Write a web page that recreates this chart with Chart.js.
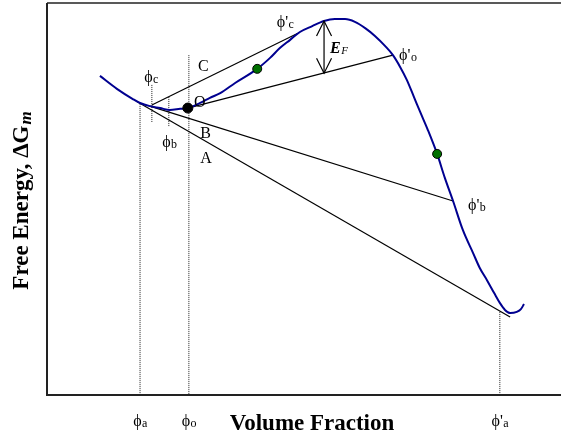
<!DOCTYPE html>
<html>
<head>
<meta charset="utf-8">
<script src="https://cdn.jsdelivr.net/npm/chart.js@4"></script>
<style>
html,body{margin:0;padding:0;background:#fff;}
#c{display:block;}
</style>
</head>
<body>
<canvas id="c" width="561" height="441"></canvas>
<script>
// Free-energy curve (volume fraction, arbitrary free energy units)
const curveX = [10.3,13.6,16.7,18.1,20.0,22.0,23.9,25.9,27.4,29.8,31.7,33.7,36.6,40.9,43.4,45.3,47.3,49.2,51.6,53.9,56.0,58.0,59.9,61.9,63.8,65.8,67.3,68.7,70.0,71.4,72.6,74.1,75.9,77.4,79.0,80.9,82.9,84.2,85.6,87.0,88.1,89.1,90.1,91.4,92.2,92.8];
const curveY = [81.4,78.1,75.5,74.5,73.7,73.2,72.7,73.0,73.2,74.5,75.8,77.0,79.6,83.2,86.0,88.5,90.6,92.6,94.1,95.4,95.9,95.9,95.2,93.6,91.6,89.0,86.7,83.7,80.4,76.0,72.2,67.6,61.5,55.4,49.5,42.1,36.2,32.4,29.3,26.0,23.5,21.7,20.9,21.2,21.9,23.2];

// Tangent (common tangent) lines: [x1, x2], [y1, y2]
const lineNames = ["C","O","B","A"];
const lineX = [[20.4,48.8],[27.4,67.3],[20.0,79.0],[17.3,90.1]];
const lineY = [[74.0,92.3],[73.2,86.7],[73.7,49.5],[75.0,19.9]];

// Dotted vertical markers: x, yTop, yBottom
const markNames = ["ϕa","ϕo","ϕc","ϕb","ϕ'a"];
const markX = [18.1,27.6,20.4,23.7,88.1];
const markTop = [74.2,86.7,79.1,76.0,21.2];
const markBottom = [0,0,69.6,68.6,0];

// Inflection / spinodal points (green) and initial composition O (black)
const greenX = [40.9,75.9];
const greenY = [83.2,61.5];
const pointOX = [27.4];
const pointOY = [73.2];

// E_F arrow: x, yTop, yBottom
const arrowX = 53.9;
const arrowY = [95.4,82.1];

// In-plot labels: main text, subscript, x, y (baseline)
const labelText = ["C","ϕ","O","B","A","ϕ","ϕ'","ϕ'","ϕ'"];
const labelSub  = ["","c","","","","b","c","o","b"];
const labelX = [29.4,18.9,28.6,29.8,29.8,22.4,44.7,68.5,81.9];
const labelY = [82.7,79.8,73.5,65.6,59.2,63.3,93.9,85.5,47.2];

// Axis (below x-axis) labels
const axisLabelText = ["ϕ","ϕ","ϕ'"];
const axisLabelSub = ["a","o","a"];
const axisLabelX = [18.1,27.6,88.1];

const SERIF = '"Liberation Serif","Times New Roman",serif';

const datasets = [];
datasets.push({
  label: 'ΔGm',
  data: curveX.map((x,i)=>({x, y: curveY[i]})),
  showLine: true, borderColor: '#000090', borderWidth: 2, pointRadius: 0,
  cubicInterpolationMode: 'monotone', fill: false, order: 1
});
lineX.forEach((xs,i)=>{
  datasets.push({
    label: 'line ' + lineNames[i],
    data: xs.map((x,j)=>({x, y: lineY[i][j]})),
    showLine: true, borderColor: '#000', borderWidth: 1.2, pointRadius: 0, order: 2
  });
});
markX.forEach((x,i)=>{
  datasets.push({
    label: 'mark ' + markNames[i],
    data: [{x, y: markTop[i]},{x, y: markBottom[i]}],
    showLine: true, borderColor: '#222', borderWidth: 1, borderDash: [1,1], pointRadius: 0, order: 3
  });
});
datasets.push({
  label: 'E_F',
  data: arrowY.map(y=>({x: arrowX, y})),
  showLine: true, borderColor: '#000', borderWidth: 1.2, pointRadius: 0, order: 2
});
datasets.push({
  label: 'green',
  data: greenX.map((x,i)=>({x, y: greenY[i]})),
  showLine: false, pointRadius: 4.5, pointBackgroundColor: '#007000', pointBorderColor: '#000', pointBorderWidth: 1, order: 0
});
datasets.push({
  label: 'O',
  data: pointOX.map((x,i)=>({x, y: pointOY[i]})),
  showLine: false, pointRadius: 5, pointBackgroundColor: '#000', pointBorderColor: '#000', pointBorderWidth: 1, order: 0
});

function drawSubText(ctx, x, y, main, sub, mainFont, subFont, subDy, align) {
  ctx.font = mainFont;
  const w1 = ctx.measureText(main).width;
  ctx.font = subFont;
  const w2 = sub ? ctx.measureText(sub).width : 0;
  let sx = x;
  if (align === 'center') sx = x - (w1 + w2) / 2;
  ctx.textAlign = 'left';
  ctx.font = mainFont;
  ctx.fillText(main, sx, y);
  if (sub) { ctx.font = subFont; ctx.fillText(sub, sx + w1 + 0.5, y + subDy); }
}

const decor = {
  id: 'decor',
  afterDatasetsDraw(chart) {
    const {ctx, chartArea: a, scales: {x, y}} = chart;
    ctx.save();
    // frame: left, top, bottom
    ctx.strokeStyle = '#222';
    ctx.lineWidth = 2;
    ctx.beginPath();
    ctx.moveTo(a.left, a.top); ctx.lineTo(a.left, a.bottom); ctx.lineTo(chart.width, a.bottom);
    ctx.stroke();
    ctx.lineWidth = 1.5;
    ctx.beginPath();
    ctx.moveTo(a.left, a.top); ctx.lineTo(chart.width, a.top);
    ctx.stroke();

    // arrowheads for E_F
    const ax = x.getPixelForValue(arrowX);
    const t = y.getPixelForValue(arrowY[0]);
    const b = y.getPixelForValue(arrowY[1]);
    ctx.strokeStyle = '#000'; ctx.lineWidth = 1.2;
    ctx.beginPath();
    ctx.moveTo(ax - 7.5, t + 15); ctx.lineTo(ax, t); ctx.lineTo(ax + 7.5, t + 15);
    ctx.moveTo(ax - 7.5, b - 15); ctx.lineTo(ax, b); ctx.lineTo(ax + 7.5, b - 15);
    ctx.stroke();

    ctx.fillStyle = '#000';
    ctx.textBaseline = 'alphabetic';
    // in-plot labels
    labelText.forEach((txt,i)=>{
      drawSubText(ctx, x.getPixelForValue(labelX[i]), y.getPixelForValue(labelY[i]),
        txt, labelSub[i], '16px ' + SERIF, '12px ' + SERIF, 1, 'left');
    });
    // E_F label
    drawSubText(ctx, x.getPixelForValue(arrowX) + 6, y.getPixelForValue((arrowY[0]+arrowY[1])/2) + 6,
      'E', 'F', 'italic bold 16px ' + SERIF, 'italic 11px ' + SERIF, 1, 'left');

    // below-axis labels
    axisLabelText.forEach((txt,i)=>{
      drawSubText(ctx, x.getPixelForValue(axisLabelX[i]), a.bottom + 31,
        txt, axisLabelSub[i], '16px ' + SERIF, '12px ' + SERIF, 1, 'center');
    });

    // axis titles
    ctx.font = 'bold 23px ' + SERIF;
    ctx.textAlign = 'center';
    ctx.fillText('Volume Fraction', 312, a.bottom + 35);

    ctx.translate(28, 201);
    ctx.rotate(-Math.PI/2);
    const mainT = 'Free Energy, ΔG';
    ctx.font = 'bold 23px ' + SERIF;
    const w1 = ctx.measureText(mainT).width;
    ctx.font = 'bold italic 17px ' + SERIF;
    const w2 = ctx.measureText('m').width;
    const sx = -(w1 + w2) / 2;
    ctx.textAlign = 'left';
    ctx.font = 'bold 23px ' + SERIF;
    ctx.fillText(mainT, sx, 0);
    ctx.font = 'bold italic 17px ' + SERIF;
    ctx.fillText('m', sx + w1 + 1, 3);
    ctx.restore();
  }
};

new Chart(document.getElementById('c'), {
  type: 'scatter',
  data: { datasets },
  options: {
    responsive: false, animation: false, devicePixelRatio: 1,
    layout: { autoPadding: false, padding: { left: 47, right: 0, top: 3, bottom: 46 } },
    plugins: { legend: { display: false }, tooltip: { enabled: false }, title: { display: false } },
    scales: {
      x: { type: 'linear', min: 0, max: 100, display: false },
      y: { type: 'linear', min: 0, max: 100, display: false }
    }
  },
  plugins: [decor]
});
</script>
</body>
</html>
